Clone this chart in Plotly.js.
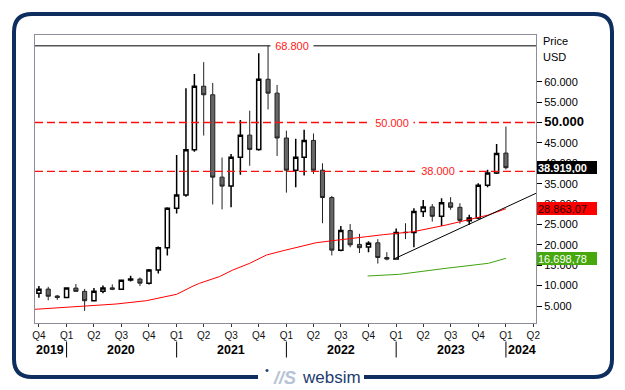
<!DOCTYPE html>
<html>
<head>
<meta charset="utf-8">
<script src="https://cdn.plot.ly/plotly-3.0.1.min.js"></script>
<style>
html,body{margin:0;padding:0;background:#fff;}
#chart{width:625px;height:390px;}
</style>
</head>
<body>
<div id="chart"></div>
<script>
// ---------- data ----------
const months = ['2019-10-01','2019-11-01','2019-12-01',
 '2020-01-01','2020-02-01','2020-03-01','2020-04-01','2020-05-01','2020-06-01','2020-07-01','2020-08-01','2020-09-01','2020-10-01','2020-11-01','2020-12-01',
 '2021-01-01','2021-02-01','2021-03-01','2021-04-01','2021-05-01','2021-06-01','2021-07-01','2021-08-01','2021-09-01','2021-10-01','2021-11-01','2021-12-01',
 '2022-01-01','2022-02-01','2022-03-01','2022-04-01','2022-05-01','2022-06-01','2022-07-01','2022-08-01','2022-09-01','2022-10-01','2022-11-01','2022-12-01',
 '2023-01-01','2023-02-01','2023-03-01','2023-04-01','2023-05-01','2023-06-01','2023-07-01','2023-08-01','2023-09-01','2023-10-01','2023-11-01','2023-12-01',
 '2024-01-01'];
const openV  = [8150,9150,7450,7100,9400,8600,6300,8600,9450,9100,11350,11600,10600,13800,19300,29000,32200,43300,58900,56800,36600,34400,41500,46900,43400,60600,57200,46200,38300,41500,45600,38300,31600,18700,23500,20100,19500,20500,16900,16500,23100,23000,28200,29300,27000,30300,29200,25900,26600,34600,37600,42500];
const highV  = [9900,9700,7700,9600,10400,9200,9400,10000,10300,11400,12400,12000,14100,19600,29200,42000,58400,61900,64800,59700,41400,42300,50600,52900,67000,68800,59200,48000,46000,48200,47300,40000,32000,24600,25100,22700,20900,21400,18200,24000,25300,29000,31000,30000,31400,31700,30200,27400,35100,38400,44700,49000];
const lowV   = [7050,6400,6500,6900,8500,3800,6100,8100,8900,8900,11000,9900,10300,13000,17400,27700,31800,42800,46800,29900,28700,29200,37200,39400,43100,53200,41800,32800,34100,37000,37400,25300,17400,18400,19400,18000,18200,15400,16200,16400,21400,19400,26800,25700,24600,28600,25200,24900,26300,34100,37400,38500];
const closeV = [9100,7400,7100,9400,8600,6300,8600,9400,9100,11300,11600,10600,13800,19300,29000,32200,43300,58900,56800,36600,34400,41500,46900,43400,60600,57200,46200,38300,41500,45600,38300,31600,18700,23500,20000,19300,20400,16900,16500,23000,23000,28200,29300,27000,30300,29200,26000,26600,34600,37600,42400,38919];

// red moving average
const maRedDates = ['2019-09-18','2020-01-12','2020-03-06','2020-06-14','2020-09-22','2021-01-01','2021-02-25','2021-03-18','2021-05-23','2021-07-07','2021-09-01','2021-10-27','2021-12-21','2022-02-15','2022-04-10','2022-06-04','2022-07-30','2022-09-24','2022-11-19','2023-01-13','2023-02-27','2023-06-16','2023-11-04','2024-01-01'];
const maRedVals  = [4190,4760,5170,5490,6300,7870,9900,10570,12200,13830,15470,17510,18560,19550,20520,21020,21600,22000,22490,22900,23220,24860,27320,28863];
// green indicator
const maGreenDates = ['2022-09-28','2022-11-19','2023-01-13','2023-06-16','2023-11-04','2024-01-01'];
const maGreenVals  = [12360,12600,12780,14250,15470,16699];
// trend line
const trendDates = ['2022-12-22','2024-04-10'];
const trendVals  = [16450,32640];

// levels
const levelVals   = [68800, 50000, 38000];
const levelLabels = ['68.800','50.000','38.000'];

// axis ticks
const qTickDates = ['2019-10-01','2020-01-01','2020-04-01','2020-07-01','2020-10-01','2021-01-01','2021-04-01','2021-07-01','2021-10-01','2022-01-01','2022-04-01','2022-07-01','2022-10-01','2023-01-01','2023-04-01','2023-07-01','2023-10-01','2024-01-01','2024-04-01'];
const qTickText  = ['Q4','Q1','Q2','Q3','Q4','Q1','Q2','Q3','Q4','Q1','Q2','Q3','Q4','Q1','Q2','Q3','Q4','Q1','Q2'];
const yearLabels = ['2019','2020','2021','2022','2023','2024'];
const yearPos    = ['2019-12-29','2020-07-01','2021-07-01','2022-07-01','2023-07-01','2024-01-02'];
const yearSeps   = ['2020-01-01','2021-01-01','2022-01-01','2023-01-01','2024-01-01'];
const yTickVals  = [5000,10000,15000,20000,25000,30000,35000,40000,45000,50000,55000,60000];
const yTickText  = ['5.000','10.000','15.000','20.000','25.000','30.000','35.000','40.000','45.000','<b><span style="font-size:13px">50.000</span></b>','55.000','60.000'];

// last value boxes
const lastVals   = [38919.00, 28863.07, 16698.78];
const lastLabels = ['<b>38.919,00</b>','28.863,07','16.698,78'];

// ---------- layout helpers ----------
const L=35, T=35, W=501, H=288;
const px = x => (x - L) / W;
const py = y => (T + H - y) / H;
const FONT = 'Liberation Sans, Arial, sans-serif';

const traces = [
  {
    type:'candlestick', x: months, open: openV, high: highV, low: lowV, close: closeV,
    increasing:{line:{color:'#000000', width:1.5}, fillcolor:'#ffffff'},
    decreasing:{line:{color:'#222222', width:1}, fillcolor:'#666666'},
    whiskerwidth:0, hoverinfo:'skip', showlegend:false
  },
  {type:'scatter', mode:'lines', x: maRedDates, y: maRedVals, line:{color:'#ff0000', width:1}, hoverinfo:'skip', showlegend:false},
  {type:'scatter', mode:'lines', x: maGreenDates, y: maGreenVals, line:{color:'#3fa40e', width:1}, hoverinfo:'skip', showlegend:false},
  {type:'scatter', mode:'lines', x: trendDates, y: trendVals, line:{color:'#000000', width:1}, hoverinfo:'skip', showlegend:false}
];

const shapes = [];
// level lines
shapes.push({type:'line', xref:'paper', x0:0, x1:1, yref:'y', y0:levelVals[0], y1:levelVals[0], line:{color:'#000', width:1}});
shapes.push({type:'line', xref:'paper', x0:0, x1:1, yref:'y', y0:levelVals[1], y1:levelVals[1], line:{color:'#ff1010', width:1.3, dash:'8px,4px'}});
shapes.push({type:'line', xref:'paper', x0:0, x1:1, yref:'y', y0:levelVals[2], y1:levelVals[2], line:{color:'#ff1010', width:1.3, dash:'8px,4px'}});
// year separators
yearSeps.forEach(d => shapes.push({type:'line', xref:'x', x0:d, x1:d, yref:'paper', y0:py(341.5), y1:py(357.5), line:{color:'#000', width:1}}));
// frame
const fx0=14, fx1=612, fy0=14, fy1=377, r=18;
const P = (x,y) => px(x).toFixed(5)+','+py(y).toFixed(5);
const framePath = 'M'+P(258,fy1)+' L'+P(fx0+r,fy1)+' Q'+P(fx0,fy1)+' '+P(fx0,fy1-r)+
  ' L'+P(fx0,fy0+r)+' Q'+P(fx0,fy0)+' '+P(fx0+r,fy0)+
  ' L'+P(fx1-r,fy0)+' Q'+P(fx1,fy0)+' '+P(fx1,fy0+r)+
  ' L'+P(fx1,fy1-r)+' Q'+P(fx1,fy1)+' '+P(fx1-r,fy1)+' L'+P(364,fy1);
shapes.push({type:'path', xref:'paper', yref:'paper', path: framePath, line:{color:'#0d2e5e', width:4}});

const annotations = [];
// level labels
const levelLabelX = [292, 392, 438];
levelVals.forEach((v,i) => annotations.push({xref:'paper', x:px(levelLabelX[i]), yref:'y', y:v, text:levelLabels[i], showarrow:false,
  font:{family:FONT, size:11, color:'#ff2020'}, bgcolor:'#ffffff', width:42, borderpad:0, xanchor:'center', yanchor:'middle'}));
// price / usd
annotations.push({xref:'paper', yref:'paper', x:px(541), y:py(41.5), text:'Price', showarrow:false, xanchor:'left', yanchor:'middle', font:{family:FONT, size:11, color:'#000'}});
annotations.push({xref:'paper', yref:'paper', x:px(541), y:py(57), text:'USD', showarrow:false, xanchor:'left', yanchor:'middle', font:{family:FONT, size:11, color:'#000'}});
// last value boxes
const boxBg = ['#000000','#ff0000','#46a80c'];
const boxFg = ['#ffffff','#1a0000','#ffffff'];
lastVals.forEach((v,i) => annotations.push({xref:'paper', x:1, xshift:1, yref:'y', y:v, text:lastLabels[i], showarrow:false,
  xanchor:'left', yanchor:'middle', align:'left', width:58, height:11, borderpad:1, borderwidth:0, bgcolor:boxBg[i],
  font:{family:FONT, size:11, color:boxFg[i]}}));
// year labels
yearLabels.forEach((t,i) => annotations.push({xref:'x', x:yearPos[i], yref:'paper', y:py(349.5), text:'<b>'+t+'</b>', showarrow:false,
  xanchor: i===0 ? 'right' : (i===yearLabels.length-1 ? 'left' : 'center'), yanchor:'middle', font:{family:FONT, size:12.5, color:'#000'}}));
// logo
annotations.push({xref:'paper', yref:'paper', x:px(267), y:py(369.5), text:'•', showarrow:false, xanchor:'center', yanchor:'middle', font:{family:FONT, size:11, color:'#1d3c6e'}});
annotations.push({xref:'paper', yref:'paper', x:px(284), y:py(378), text:'<b><i>//S</i></b>', showarrow:false, xanchor:'center', yanchor:'middle', font:{family:FONT, size:18, color:'#b6c3d6'}});
annotations.push({xref:'paper', yref:'paper', x:px(331), y:py(377.5), text:'websim', showarrow:false, xanchor:'center', yanchor:'middle', font:{family:FONT, size:17, color:'#1d3c6e'}});

const layout = {
  width:625, height:390,
  margin:{l:L, r:625-L-W, t:T, b:390-T-H, pad:0},
  paper_bgcolor:'#ffffff', plot_bgcolor:'#ffffff',
  font:{family:FONT, size:11, color:'#000'},
  separators:',.',
  showlegend:false,
  hovermode:false,
  xaxis:{type:'date', range:['2019-09-18','2024-04-10'], rangeslider:{visible:false},
    tickmode:'array', tickvals:qTickDates, ticktext:qTickText, ticks:'outside', ticklen:3, tickcolor:'#333',
    tickfont:{family:FONT, size:10, color:'#111'}, showgrid:false, zeroline:false,
    showline:true, linecolor:'#8c8c9a', linewidth:1, mirror:true},
  yaxis:{side:'right', range:[834, 71456], tickmode:'array', tickvals:yTickVals, ticktext:yTickText,
    ticks:'outside', ticklen:5, tickcolor:'#000', tickfont:{family:FONT, size:11, color:'#000'},
    showgrid:false, zeroline:false, showline:true, linecolor:'#8c8c9a', linewidth:1, mirror:true},
  shapes: shapes,
  annotations: annotations
};

Plotly.newPlot('chart', traces, layout, {staticPlot:true, displayModeBar:false});
</script>
</body>
</html>
